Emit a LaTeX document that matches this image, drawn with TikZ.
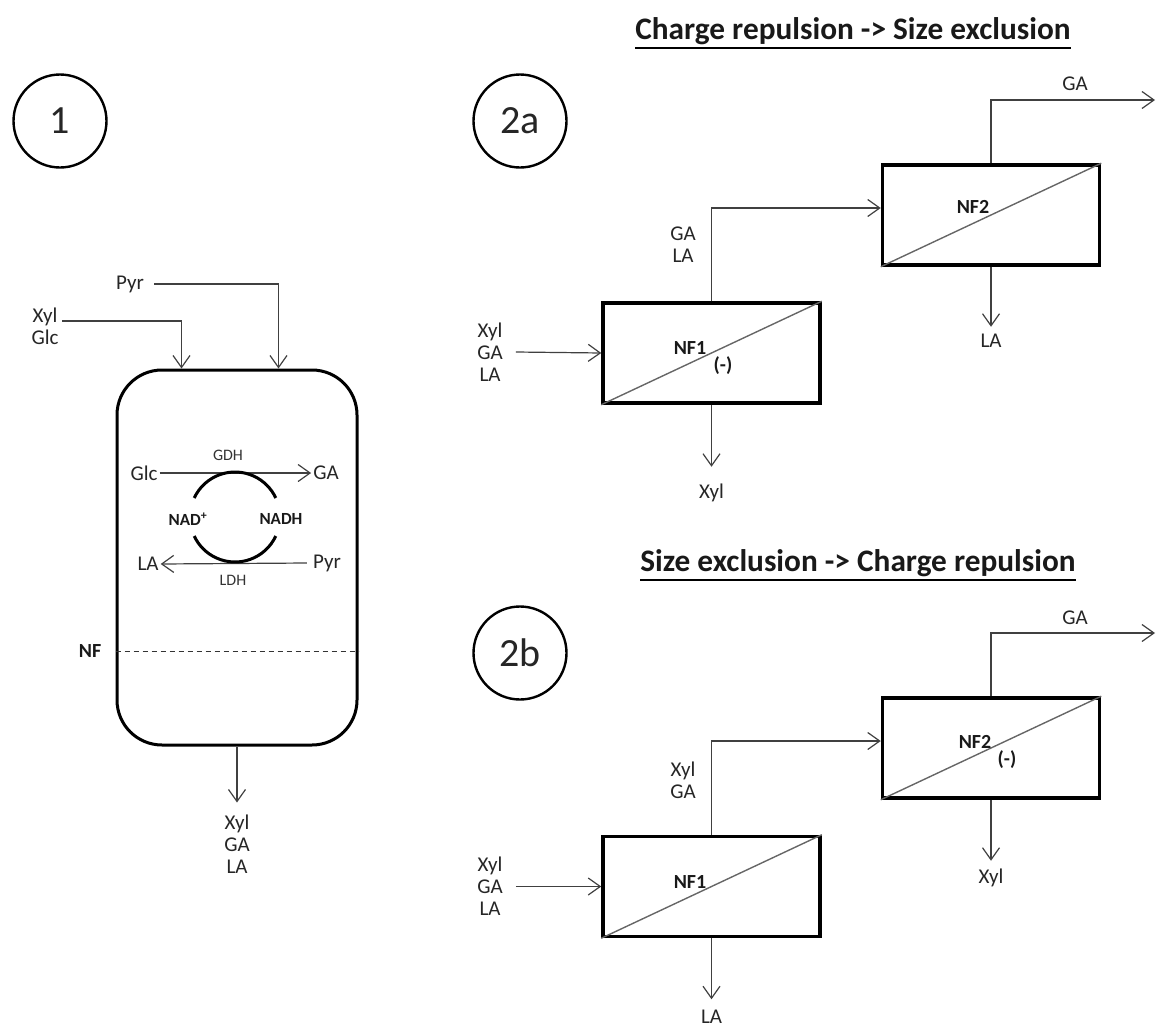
\documentclass[tikz,border=0pt]{standalone}
\usepackage{fontspec}
\setmainfont{Carlito}
\usetikzlibrary{arrows.meta,calc}
\begin{document}
\begin{tikzpicture}[x=1pt,y=-1pt,
  lbl/.style={font=\fontsize{21}{22}\selectfont, inner sep=0pt, text=black!85, align=center},
  small/.style={font=\fontsize{16}{18}\selectfont, inner sep=0pt, text=black!80},
  blbl/.style={font=\fontsize{20}{22}\selectfont\bfseries, inner sep=0pt, text=black!90},
  flow/.style={draw=black!75, line width=1.2pt, -{Straight Barb[length=12pt,width=17pt,line width=1.2pt]}},
  nfbox/.style={draw=black, line width=3.5pt, minimum width=217pt, minimum height=100pt, inner sep=0pt},
  diag/.style={draw=black!60, line width=1.4pt},
  numc/.style={circle, draw=black, line width=2.4pt, minimum size=93pt, inner sep=0pt, font=\fontsize{40}{40}\selectfont, text=black!85},
  titl/.style={font=\fontsize{31.3}{33}\selectfont\bfseries, inner sep=0pt, text=black!90}
]
\useasboundingbox (0,0) rectangle (1157,1028);

% ---------- numbered circles ----------
\node[numc] (c1) at (60,121) {1};
\node[numc] (c2a) at (520,121) {2a};
\node[numc] (c2b) at (520,653) {2b};

% ---------- titles ----------
\node[titl] (t1) at (853,31) {Charge repulsion -> Size exclusion};
\draw[line width=2pt] ($(t1.south west)+(0,3)$) -- ($(t1.south east)+(0,3)$);
\node[titl] (t2) at (858,563) {Size exclusion -> Charge repulsion};
\draw[line width=2pt] ($(t2.south west)+(0,3)$) -- ($(t2.south east)+(0,3)$);

% ---------- reactor (1) ----------
\node[draw=black, line width=3pt, rounded corners=45pt, minimum width=240pt, minimum height=375pt, inner sep=0pt] (R) at (237,557.5) {};
\draw[black!80, line width=1pt, dash pattern=on 5pt off 4pt] ($(R.west)+(0,93.5)$) coordinate (nfl) -- ($(R.east)+(0,93.5)$) coordinate (nfr);
\node[blbl, anchor=east] (nf) at ($(nfl)+(-14,0)$) {NF};

\node[lbl] (feedR) at (45,326) {Xyl\\Glc};
\coordinate (in1) at (62,321);
\draw[flow] (in1) -| ($(R.north west)+(66,0)$);
\node[lbl] (pyrin) at (130,284) {Pyr};
\draw[flow] ($(pyrin.east)+(10,0)$) -| ($(R.north west)+(163,0)$);

\draw[flow] (R.south) -- ++(0,56) coordinate (rout);
\node[lbl, anchor=north] (prodR) at ($(rout)+(0,12)$) {Xyl\\GA\\LA};

% reaction inside
\node[lbl] (glc) at (144,473) {Glc};
\node[lbl] (ga) at (326,473) {GA};
\draw[flow] ($(glc.east)+(2,0)$) -- ($(ga.west)+(-2,0)$);
\node[small] (gdh) at (228,455) {GDH};
\node[lbl] (pyr) at (327,563) {Pyr};
\node[lbl] (la) at (148,564) {LA};
\draw[flow] ($(pyr.west)+(-6,0)$) -- ($(la.east)+(2,0)$);
\node[small] (ldh) at (233,580) {LDH};
\coordinate (cyc) at (235,517);
\draw[black, line width=3pt] (cyc) ++(205:45) arc[start angle=205, end angle=335, radius=45];
\draw[black, line width=3pt] (cyc) ++(25:45) arc[start angle=25, end angle=155, radius=45];
\node[blbl, font=\fontsize{17}{20}\selectfont\bfseries] (nad) at (188,519) {NAD\textsuperscript{+}};
\node[blbl, font=\fontsize{17}{20}\selectfont\bfseries] (nadh) at (281,519) {NADH};

% ---------- 2a ----------
\node[nfbox] (nf1a) at (711.5,353) {};
\draw[diag] (nf1a.south west) -- (nf1a.north east);
\node[blbl] at (690,348) {NF1};
\node[blbl] at (723,366) {(-)};
\node[lbl] (feed2a) at (490,352) {Xyl\\GA\\LA};
\draw[flow] ($(feed2a.east)+(13,0)$) -- (nf1a.west);
\draw[flow] (nf1a.south) -- ++(0,62) coordinate (o1a);
\node[lbl] (xyl1a) at ($(o1a)+(0,26)$) {Xyl};

\node[nfbox] (nf2a) at (991,215) {};
\draw[diag] (nf2a.south west) -- (nf2a.north east);
\node[blbl] at (973,207) {NF2};
\draw[flow] (nf1a.north) |- ($(nf2a.west)+(0,-7)$);
\node[lbl] (p1a) at (683,245) {GA\\LA};
\draw[flow] (nf2a.north) |- (1155,100) coordinate (o2a);
\node[lbl] (ga2a) at (1075,84) {GA};
\draw[flow] (nf2a.south) -- ++(0,60) coordinate (o3a);
\node[lbl] (la2a) at ($(o3a)+(0,14)$) {LA};

% ---------- 2b ----------
\node[nfbox] (nf1b) at (711.5,886.5) {};
\draw[diag] (nf1b.south west) -- (nf1b.north east);
\node[blbl] at (690,882) {NF1};
\node[lbl] (feed2b) at (490,886.5) {Xyl\\GA\\LA};
\draw[flow] ($(feed2b.east)+(13,0)$) -- (nf1b.west);
\draw[flow] (nf1b.south) -- ++(0,61) coordinate (o1b);
\node[lbl] (la1b) at ($(o1b)+(0,18)$) {LA};

\node[nfbox] (nf2b) at (991,748) {};
\draw[diag] (nf2b.south west) -- (nf2b.north east);
\node[blbl] at (975,742) {NF2};
\node[blbl] at (1007,760) {(-)};
\draw[flow] (nf1b.north) |- ($(nf2b.west)+(0,-7)$);
\node[lbl] (p1b) at (683,780) {Xyl\\GA};
\draw[flow] (nf2b.north) |- (1155,633) coordinate (o2b);
\node[lbl] (ga2b) at (1075,618) {GA};
\draw[flow] (nf2b.south) -- ++(0,61) coordinate (o3b);
\node[lbl] (xyl2b) at ($(o3b)+(0,17)$) {Xyl};
\end{tikzpicture}
\end{document}
